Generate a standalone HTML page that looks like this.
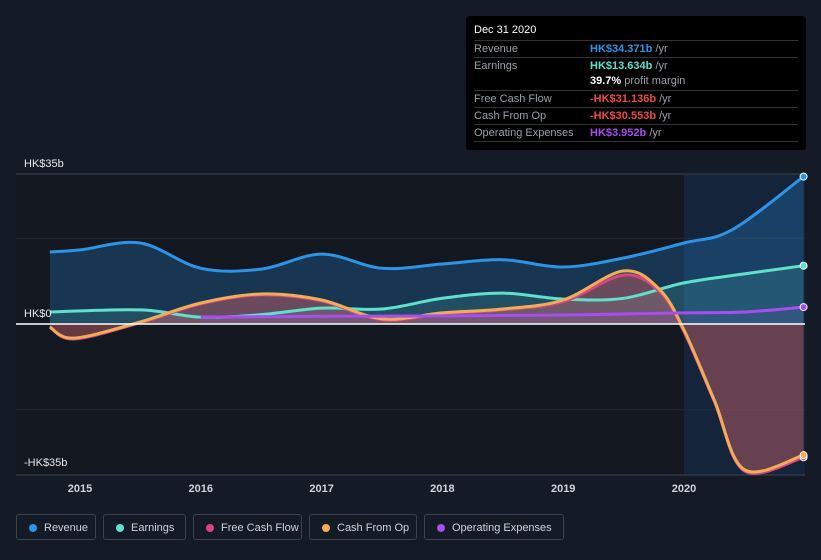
<!DOCTYPE html>
<html><head><meta charset="utf-8"><style>
body{margin:0;width:821px;height:560px;background:#151b26;font-family:"Liberation Sans",sans-serif;overflow:hidden;position:relative}
.tip{position:absolute;left:466px;top:16px;width:340px;height:134px;background:#000;border-radius:3px;font-size:11px;color:#9aa0a8}
.tip .row{position:absolute;left:8px;width:324px;border-top:1px solid #333;height:16px;line-height:16px}
.tip .v{position:absolute;left:116px;font-weight:bold}
.tip .v span{font-weight:normal}
.leg{position:absolute;top:514px;height:26px;border:1px solid #3a4250;border-radius:3px;color:#cfd3d8;font-size:11px;line-height:26px;box-sizing:border-box;padding-left:27px}
.leg i{position:absolute;left:12px;top:9px;width:8px;height:8px;border-radius:50%}
</style></head><body>
<svg id="chart" width="821" height="560" style="position:absolute;left:0;top:0"></svg>
<div class="tip">
<div style="position:absolute;left:8px;top:8px;color:#fff;font-size:11px">Dec 31 2020</div>
<div class="row" style="top:24px">Revenue<span class="v" style="color:#2b94e6">HK$34.371b <span style="color:#9aa0a8">/yr</span></span></div>
<div class="row" style="top:41px">Earnings<span class="v" style="color:#5fe0cc">HK$13.634b <span style="color:#9aa0a8">/yr</span></span></div>
<div class="row" style="top:57px;border-top:none"><span class="v" style="color:#fff">39.7% <span style="color:#9aa0a8">profit margin</span></span></div>
<div class="row" style="top:74px">Free Cash Flow<span class="v" style="color:#ef4a4a">-HK$31.136b <span style="color:#9aa0a8">/yr</span></span></div>
<div class="row" style="top:91px">Cash From Op<span class="v" style="color:#ef4a4a">-HK$30.553b <span style="color:#9aa0a8">/yr</span></span></div>
<div class="row" style="top:108px">Operating Expenses<span class="v" style="color:#a64ef0">HK$3.952b <span style="color:#9aa0a8">/yr</span></span></div>
<div class="row" style="top:125px;height:0"></div>
</div>
<div class="leg" style="left:16px;width:80px"><i style="background:#2b94e6"></i>Revenue</div>
<div class="leg" style="left:103px;width:83px"><i style="background:#5fe0cc"></i>Earnings</div>
<div class="leg" style="left:193px;width:109px"><i style="background:#d9467f"></i>Free Cash Flow</div>
<div class="leg" style="left:309px;width:108px"><i style="background:#f0ad57"></i>Cash From Op</div>
<div class="leg" style="left:424px;width:140px"><i style="background:#a64ef0"></i>Operating Expenses</div>
<script>
const yearTicks=[2015,2016,2017,2018,2019,2020];
const revX=[2014.75,2015,2015.5,2016,2016.5,2017,2017.5,2018,2018.5,2019,2019.5,2020,2020.4,2020.99];
const revY=[16.8,17.3,18.9,13,12.8,16.3,13,14,15,13.3,15.4,18.9,22,34.4];
const earnX=[2014.75,2015.5,2016,2016.5,2017,2017.5,2018,2018.5,2019,2019.5,2020,2020.5,2020.99];
const earnY=[2.8,3.3,1.6,2.2,3.7,3.5,6,7.2,5.8,6,9.6,11.7,13.6];
const cfoX=[2014.75,2014.95,2015.5,2016,2016.5,2017,2017.5,2018,2018.5,2019,2019.5,2019.8,2020,2020.25,2020.5,2020.99];
const cfoY=[-0.7,-3.3,0.5,4.9,7,5.6,1.2,2.6,3.5,5.6,12.4,8,-1.4,-17.7,-34,-30.6];
const fcfY=[-0.7,-3.5,0.3,4.7,6.8,5.4,1,2.4,3.3,5.2,11.4,7.5,-1.8,-18,-34.3,-31.1];
const opxX=[2016,2017,2018,2019,2020,2020.5,2020.99];
const opxY=[1.6,1.8,1.9,2.1,2.6,2.8,3.95];
const svg=document.getElementById('chart');const NS='http://www.w3.org/2000/svg';
const X=t=>80+(t-2015)*120.8;const Y=v=>324-v*150/35;
function el(tag,a,p){const e=document.createElementNS(NS,tag);for(const k in a)e.setAttribute(k,a[k]);(p||svg).appendChild(e);return e;}
function path(xs,ys){const p=xs.map((x,i)=>[X(x),Y(ys[i])]);let d='M'+p[0][0].toFixed(1)+','+p[0][1].toFixed(1);
for(let i=0;i<p.length-1;i++){const p0=p[Math.max(0,i-1)],p1=p[i],p2=p[i+1],p3=p[Math.min(p.length-1,i+2)];const k=1/6;
const c1=[p1[0]+(p2[0]-p0[0])*k,p1[1]+(p2[1]-p0[1])*k],c2=[p2[0]-(p3[0]-p1[0])*k,p2[1]-(p3[1]-p1[1])*k];
d+='C'+c1.map(v=>v.toFixed(1))+' '+c2.map(v=>v.toFixed(1))+' '+p2[0].toFixed(1)+','+p2[1].toFixed(1);}return d;}
function area(xs,ys){return path(xs,ys)+'L'+X(xs[xs.length-1])+','+Y(0)+'L'+X(xs[0])+','+Y(0)+'Z';}
let pb=el('rect',{x:16,y:175,width:789,height:300,fill:'#121720'});
let r=el('rect',{x:X(2020),y:175,width:805-X(2020),height:300,fill:'#14243a'});

[35,20,-20].forEach(v=>{let g=el('line',{x1:16,x2:805,y1:Y(v),y2:Y(v),stroke:v==35?'#3d4450':'#262d38'});});
let bl=el('line',{x1:16,x2:805,y1:475,y2:475,stroke:'#3d4450'});
const series=[[revX,revY,'#2b94e6','revenue',0.25],[earnX,earnY,'#5fe0cc','earnings',0.15],[cfoX,fcfY,'#d9467f','free-cash-flow',0.3],[cfoX,cfoY,'#f0ad57','cash-from-op',0.15],[opxX,opxY,'#a64ef0','operating-expenses',0.1]];
series.forEach(s=>{let a=el('path',{d:area(s[0],s[1]),fill:s[2],'fill-opacity':s[4]});});
series.forEach(s=>{let l=el('path',{d:path(s[0],s[1]),fill:'none',stroke:s[2],'stroke-width':3,'stroke-linejoin':'round'});
let c=el('circle',{cx:X(s[0][s[0].length-1]),cy:Y(s[1][s[1].length-1]),r:3.5,fill:s[2],stroke:'#fff','stroke-width':1});});
let z=el('line',{x1:16,x2:805,y1:Y(0),y2:Y(0),stroke:'#fff','stroke-width':1.5});
[['HK$35b',167,'y-label-top'],['HK$0',317,'y-label-zero'],['-HK$35b',466,'y-label-bottom']].forEach(t=>{let e=el('text',{x:24,y:t[1],fill:'#e6e8eb','font-size':11});e.textContent=t[0];});
yearTicks.forEach(t=>{let e=el('text',{x:X(t),y:492,fill:'#d0d4da','font-size':11,'font-weight':'bold','text-anchor':'middle'});e.textContent=t;});
</script>
</body></html>
